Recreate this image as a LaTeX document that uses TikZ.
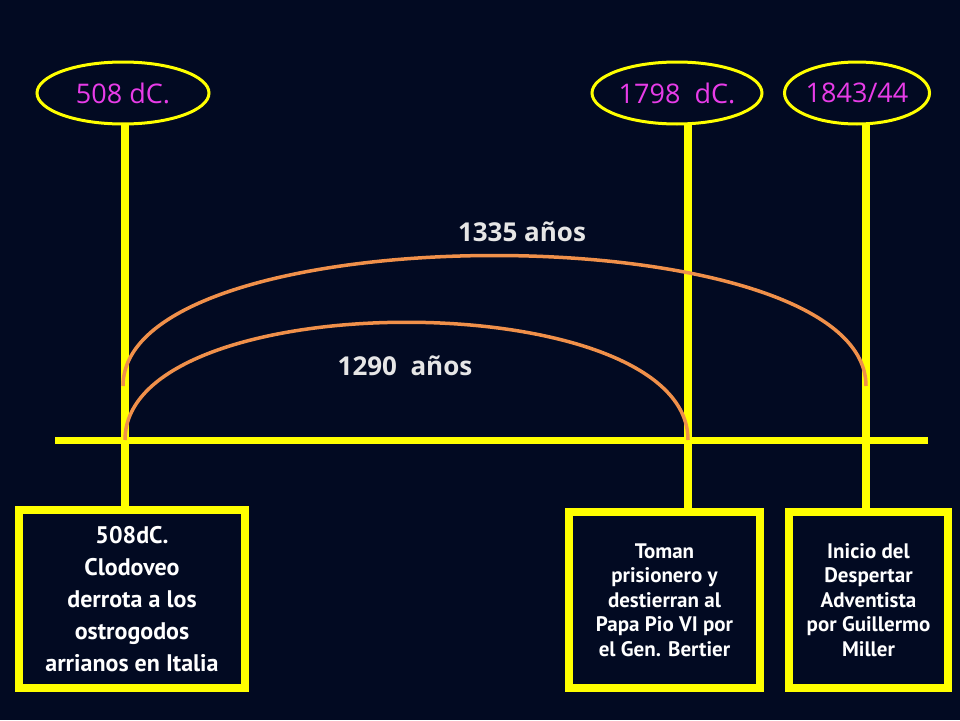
\documentclass[tikz,border=0pt]{standalone}
\usepackage{fontspec}
\setmainfont{Open Sans}
\newfontfamily\boxfont{PT Sans}
\usetikzlibrary{shapes.geometric}
\definecolor{bg}{HTML}{020A22}
\definecolor{yel}{HTML}{FFFF00}
\definecolor{mag}{HTML}{E83CE8}
\definecolor{org}{HTML}{F0904A}
\definecolor{lbl}{HTML}{E6E6E6}
\tikzset{
 yr/.style={ellipse,draw=yel,line width=3pt,fill=bg,minimum width=#1,minimum height=62pt,inner sep=0pt,text=mag,font=\fontsize{27}{30}\selectfont},
 vline/.style={yel,line width=8pt},
 arcline/.style={org,line width=3.5pt},
 lab/.style={text=lbl,font=\bfseries\fontsize{26}{30}\selectfont},
 ebox/.style={draw=yel,line width=8pt,text=white,align=center,inner sep=0pt,font=\boxfont\bfseries\fontsize{21}{24.5}\selectfont}
}
\begin{document}
\begin{tikzpicture}[x=1pt,y=-1pt]
\fill[bg] (0,0) rectangle (960,720);
\useasboundingbox (0,0) rectangle (960,720);
\node[ebox,minimum width=226pt,minimum height=178pt,font=\boxfont\bfseries\fontsize{24}{32}\selectfont] (b1) at (132,599) {508dC.\\Clodoveo\\derrota a los\\ostrogodos\\arrianos en Italia};
\node[ebox,minimum width=191pt,minimum height=176pt] (b2) at (664.5,600) {Toman\\prisionero y\\destierran al\\Papa Pio VI por\\el Gen. Bertier};
\node[ebox,minimum width=159pt,minimum height=176pt] (b3) at (868.5,600) {Inicio del\\Despertar\\Adventista\\por Guillermo\\Miller};
\coordinate (h1) at (55,440); \coordinate (h2) at (928,440);
\draw[yel,line width=7pt] (h1) -- (h2);
\node[yr=172pt] (e1) at (123,93) {508 dC.};
\node[yr=170pt] (e2) at (677,93) {1798\ \ dC.};
\node[yr=142pt] (e3) at (857,93) {1843/44};
\draw[vline] (125,124) -- (b1.north -| 125,0);
\draw[vline] (688,124) -- (b2.north -| 688,0);
\draw[vline] (866,124) -- (b3.north -| 866,0);
\coordinate (a1) at (123,386); \coordinate (a2) at (866,386);
\draw[arcline] (a1) .. controls (123,212) and (866,212) .. (a2);
\coordinate (c1) at (125,440); \coordinate (c2) at (688,440);
\draw[arcline] (c1) .. controls (125,283) and (688,283) .. (c2);
\node[lab] (l1) at (522,232) {1335 años};
\node[lab] (l2) at (405,366) {1290\ \ años};
\end{tikzpicture}
\end{document}
